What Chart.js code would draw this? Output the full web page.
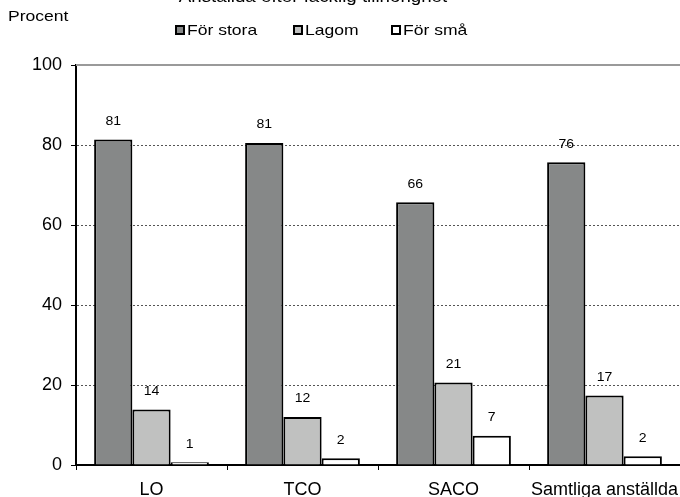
<!DOCTYPE html>
<html>
<head>
<meta charset="utf-8">
<script src="https://cdn.jsdelivr.net/npm/chart.js@4"></script>
<style>
  body { margin: 0; background: #fff; }
  #wrap { width: 680px; height: 497px; }
</style>
</head>
<body>
<div id="wrap"><canvas id="chart" width="680" height="497"></canvas></div>
<script>
const categories = ['LO', 'TCO', 'SACO', 'Samtliga anställda'];
const seriesNames = ['För stora', 'Lagom', 'För små'];
const forStora = [81.4, 80.5, 65.7, 75.7];
const lagom = [13.9, 12.0, 20.6, 17.4];
const forSma = [0.7, 1.7, 7.3, 2.2];
const yTicks = [0, 20, 40, 60, 80, 100];

const colors = ['#868888', '#c0c1c0', '#ffffff'];
const font = '"Liberation Sans", Arial, sans-serif';
const stretch = 1.17;

// text in the reference is a bit wide, so stretch it horizontally
function wideText(ctx, text, x, y) {
    ctx.save();
    ctx.translate(x, y);
    ctx.scale(stretch, 1);
    ctx.fillText(text, 0, 0);
    ctx.restore();
}

// title, y unit, legend, value labels
const extras = {
    id: 'extras',
    afterDraw(chart) {
        const ctx = chart.ctx;
        const area = chart.chartArea;
        ctx.save();

        // top frame line
        ctx.strokeStyle = '#9a9a9a';
        ctx.lineWidth = 2;
        ctx.beginPath();
        ctx.moveTo(area.left, area.top);
        ctx.lineTo(area.right, area.top);
        ctx.stroke();

        ctx.fillStyle = '#000';
        ctx.font = '16px ' + font;
        ctx.textAlign = 'center';
        ctx.textBaseline = 'alphabetic';
        wideText(ctx, 'Anställda efter facklig tillhörighet', 313, 2);

        ctx.font = '15px ' + font;
        ctx.textAlign = 'left';
        ctx.textBaseline = 'middle';
        wideText(ctx, 'Procent', 8, 17);

        const legendX = [176, 294, 392];
        seriesNames.forEach((name, i) => {
            ctx.fillStyle = colors[i];
            ctx.fillRect(legendX[i], 26, 8, 8);
            ctx.strokeStyle = '#000';
            ctx.lineWidth = 2;
            ctx.strokeRect(legendX[i], 26, 8, 8);
            ctx.fillStyle = '#000';
            wideText(ctx, name, legendX[i] + 11, 31);
        });

        ctx.font = '12px ' + font;
        ctx.textAlign = 'center';
        chart.data.datasets.forEach((ds, i) => {
            chart.getDatasetMeta(i).data.forEach((bar, j) => {
                wideText(ctx, String(Math.round(ds.data[j])), bar.x, bar.y - 18);
            });
        });
        ctx.restore();
    }
};

new Chart(document.getElementById('chart'), {
    type: 'bar',
    data: {
        labels: categories,
        datasets: [forStora, lagom, forSma].map((d, i) => ({
            label: seriesNames[i],
            data: d,
            backgroundColor: colors[i],
            borderColor: '#000',
            borderWidth: 2,
            categoryPercentage: 0.76,
            barPercentage: 1
        }))
    },
    options: {
        responsive: false,
        animation: false,
        layout: { padding: { top: 65, left: 0, right: 0, bottom: 0 } },
        plugins: {
            legend: { display: false },
            tooltip: { enabled: false },
            title: { display: false }
        },
        scales: {
            x: {
                afterFit: s => {
                    s.height = 32;
                    s.paddingLeft = 0;
                    s.paddingRight = 0;
                },
                grid: {
                    offset: true,
                    drawOnChartArea: false,
                    drawTicks: true,
                    tickLength: 5,
                    tickColor: '#000',
                    tickWidth: 1
                },
                border: { color: '#000', width: 2 },
                ticks: {
                    color: '#000',
                    font: { family: font, size: 18 },
                    padding: 9,
                    maxRotation: 0,
                    autoSkip: false
                }
            },
            y: {
                min: 0,
                max: 100,
                afterFit: s => {
                    s.width = 76;
                    s.paddingTop = 0;
                    s.paddingBottom = 0;
                },
                afterBuildTicks: s => { s.ticks = yTicks.map(v => ({ value: v })); },
                grid: {
                    color: c => (c.tick && (c.tick.value === 0 || c.tick.value === 100)) ? 'rgba(0,0,0,0)' : '#555',
                    lineWidth: 1,
                    drawTicks: true,
                    tickLength: 5,
                    tickColor: '#000',
                    tickWidth: 1,
                    tickBorderDash: []
                },
                border: { color: '#000', width: 2, dash: [2, 2] },
                ticks: {
                    color: '#000',
                    font: { family: font, size: 18 },
                    padding: 9
                }
            }
        }
    },
    plugins: [extras]
});
</script>
</body>
</html>
